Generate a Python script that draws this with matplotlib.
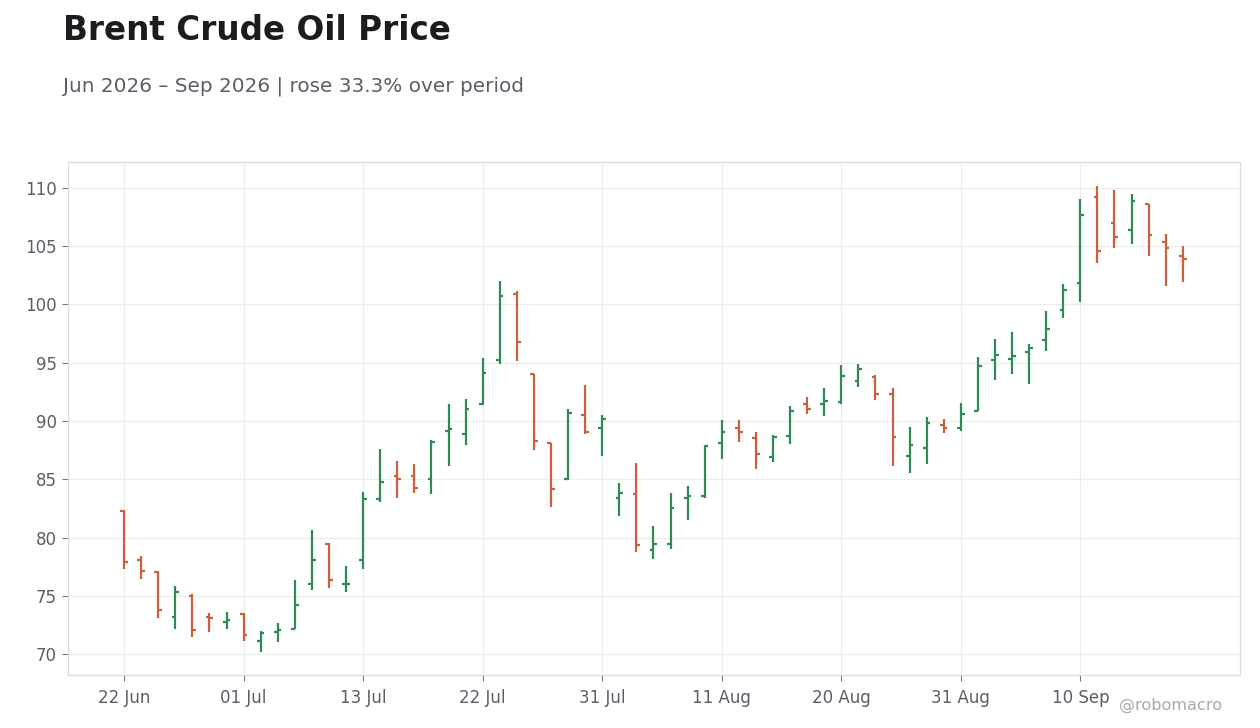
import matplotlib
matplotlib.use("Agg")
import matplotlib.pyplot as plt
import pandas as pd
import numpy as np

plt.rcParams["font.family"] = ["DejaVu Sans"]

# ---- data ----
start_date = "2026-06-22"
end_date = "2026-09-18"
holidays = ["2026-07-03", "2026-09-07"]

opens = [82.3, 78.1, 77.05, 73.2, 75.0, 73.2, 72.75, 73.45, 71.1, 71.9, 72.15,
         76.0, 79.45, 76.0, 78.07, 83.3, 85.3, 85.3, 85.0, 89.1, 88.9,
         91.5, 95.2, 100.9, 94.0, 88.1, 85.0, 90.5, 89.4, 83.4, 83.7,
         78.9, 79.45, 83.42, 83.6, 88.07, 89.37, 88.5, 86.95, 88.75, 91.45,
         91.45, 91.6, 93.4, 93.76, 92.3, 87.0, 87.64, 89.63, 89.37, 90.9,
         95.25, 95.34, 95.94, 96.97, 99.56, 101.88, 109.2, 106.96, 106.36, 108.62,
         105.35, 104.12]
highs = [82.4, 78.4, 77.1, 75.8, 75.13, 73.5, 73.58, 73.5, 71.95, 72.64, 76.33,
         80.63, 79.54, 77.53, 83.91, 87.61, 86.58, 86.32, 88.39, 91.49, 91.92,
         95.44, 101.98, 101.12, 94.04, 88.11, 91.06, 93.12, 90.54, 84.65, 86.41,
         80.98, 83.82, 84.43, 87.96, 90.11, 90.11, 89.08, 88.82, 91.25, 92.1,
         92.87, 94.77, 94.86, 93.91, 92.87, 89.51, 90.37, 90.2, 91.58, 95.5,
         97.03, 97.63, 96.6, 99.44, 101.76, 109.08, 110.2, 109.86, 109.51, 108.62,
         106.07, 105.04]
lows = [77.3, 76.45, 73.09, 72.15, 71.46, 71.89, 72.15, 71.12, 70.17, 71.03, 72.15,
        75.49, 75.66, 75.32, 77.3, 83.07, 83.42, 83.85, 83.76, 86.18, 87.95,
        91.35, 94.87, 95.13, 87.48, 82.61, 84.93, 88.88, 86.96, 81.84, 78.76,
        78.16, 79.02, 81.52, 83.42, 86.78, 88.16, 85.92, 86.52, 88.06, 90.63,
        90.46, 91.44, 92.9, 91.84, 86.15, 85.57, 86.35, 88.94, 89.11, 90.85,
        93.53, 94.05, 93.19, 96.03, 98.87, 100.24, 103.52, 104.89, 105.15, 104.12,
        101.62, 101.97]
closes = [77.93, 77.13, 73.78, 75.33, 72.06, 73.12, 72.92, 71.63, 71.81, 72.06, 74.21,
          78.07, 76.35, 76.04, 83.33, 84.8, 85.03, 84.28, 88.16, 89.28, 91.05,
          94.1, 100.72, 96.76, 88.31, 84.13, 90.72, 89.03, 90.14, 83.8, 79.34,
          79.45, 82.56, 83.59, 87.82, 89.02, 89.02, 87.13, 88.59, 90.9, 91.06,
          91.7, 93.85, 94.45, 92.3, 88.65, 87.9, 89.8, 89.37, 90.57, 94.7,
          95.68, 95.6, 96.28, 97.92, 101.28, 107.65, 104.63, 105.75, 108.85, 105.93,
          104.89, 103.92]

title = "Brent Crude Oil Price"
subtitle = "Jun 2026 \u2013 Sep 2026 | rose 33.3% over period"
watermark = "@robomacro"
y_ticks = [70, 75, 80, 85, 90, 95, 100, 105, 110]
x_tick_step = 7

dates = pd.bdate_range(start_date, end_date, freq="C", holidays=holidays)

# ---- style ----
UP = "#2e8b57"
DOWN = "#cc5f3e"
TXT = "#5c5d66"

fig = plt.figure(figsize=(12.6, 7.28), dpi=100)
fig.patch.set_facecolor("white")
ax = fig.add_axes([0.054, 0.0728, 0.930, 0.7047])

x = np.arange(len(opens))
o = np.array(opens); h = np.array(highs); l = np.array(lows); c = np.array(closes)
cols = [UP if cc >= oo else DOWN for oo, cc in zip(o, c)]
tick = 0.22
ax.vlines(x, l, h, colors=cols, linewidth=1.6, zorder=3)
ax.hlines(o, x - tick, x, colors=cols, linewidth=1.6, zorder=3)
ax.hlines(c, x, x + tick, colors=cols, linewidth=1.6, zorder=3)

ax.set_xlim(-3.28, len(opens) - 1 + 3.34)
ax.set_ylim(68.2, 112.23)
ax.set_yticks(y_ticks)
ax.set_yticklabels([str(v) for v in y_ticks])
xt = list(range(0, len(dates), x_tick_step))
ax.set_xticks(xt)
ax.set_xticklabels([dates[i].strftime("%d %b") for i in xt])

ax.grid(True, color="#ececec", linewidth=0.8, zorder=0)
ax.set_axisbelow(True)
for s in ax.spines.values():
    s.set_color("#dcdcdc")
    s.set_linewidth(0.9)
ax.tick_params(axis="both", colors="#777777", labelcolor=TXT, labelsize=12,
               length=4, width=0.8)
ax.tick_params(axis="x", pad=6)
ax.tick_params(axis="y", pad=4)

fig.text(63 / 1260, 1 - 31 / 728, title, fontsize=23.5, fontweight="bold",
         color="#1b1b20", ha="left", va="center")
fig.text(63 / 1260, 1 - 86 / 728, subtitle, fontsize=14.4, color=TXT,
         ha="left", va="center")
fig.text(1222 / 1260, 1 - 705 / 728, watermark, fontsize=11.6, color="#aaaaaa",
         ha="right", va="center")

fig.savefig("out.png", dpi=100, facecolor="white")
